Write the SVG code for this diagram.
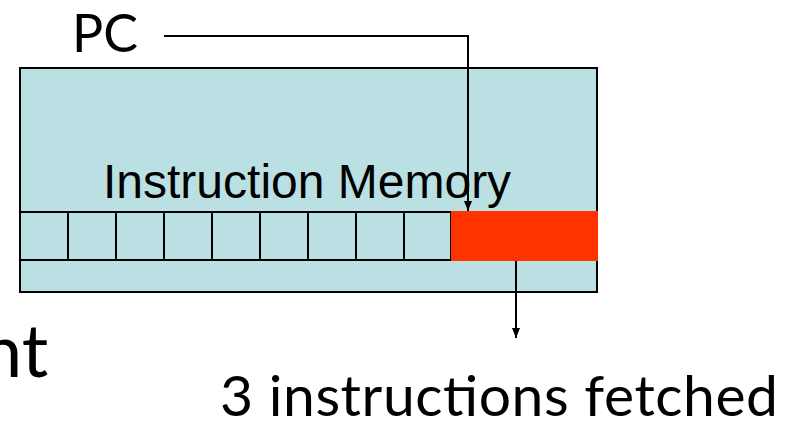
<svg xmlns="http://www.w3.org/2000/svg" width="796" height="423" viewBox="0 0 796 423">
<style>
.ln{stroke:#000;stroke-width:2;fill:none}
.lato{font-family:Lato,"Noto Sans",sans-serif;fill:#000}
.arial{font-family:"Liberation Sans",Arial,sans-serif;fill:#000}
</style>
<defs>
<marker id="ah" viewBox="0 0 10 10" refX="10" refY="5" markerWidth="10" markerHeight="10" markerUnits="userSpaceOnUse" orient="auto">
<path d="M0,1 L10,5 L0,9 z" fill="#000"/>
</marker>
</defs>
<g id="memory">
<rect x="20" y="68" width="577" height="224" fill="#bbe0e3" stroke="#000" stroke-width="2"/>
<text class="arial" x="103" y="198" font-size="48">Instruction Memory</text>
<rect x="20" y="212" width="431" height="48" fill="#bbe0e3" stroke="#000" stroke-width="2"/>
<path class="ln" d="M68,212V260M116,212V260M164,212V260M212,212V260M260,212V260M308,212V260M356,212V260M404,212V260"/>
<rect x="451" y="211" width="147" height="50" fill="#ff3300"/>
</g>
<g id="pc">
<text class="lato" x="72" y="52" font-size="52">PC</text>
</g>
<g id="fetched">
<text class="lato" x="220" y="416" font-size="57" textLength="558" lengthAdjust="spacing">3 instructions fetched</text>
</g>
<g id="partial">
<text class="lato" x="-19" y="377" font-size="74">nt</text>
</g>
<g id="connectors">
<path class="ln" d="M164,36H468V211" marker-end="url(#ah)"/>
<path class="ln" d="M516,261V338" marker-end="url(#ah)"/>
</g>
</svg>
